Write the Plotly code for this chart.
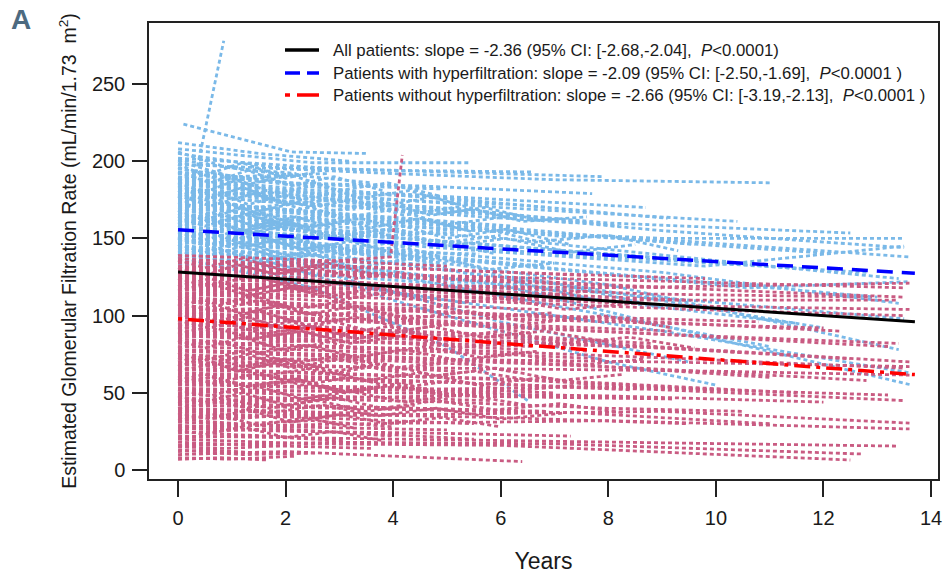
import plotly.graph_objects as go

# ---------------- data ----------------
# Individual eGFR trajectories, each patient: list of (years, eGFR)
hyper_patients = [
    [(0.2, 170), (0.85, 278)],
    [(0.1, 224), (2.1, 206), (3.5, 205)],
    [(0, 212), (1.5, 205), (3.2, 200)],
    [(0, 208), (2.5, 199), (5.4, 199)],
    [(0, 205), (1.8, 196), (4.2, 194), (6.6, 193)],
    [(0, 202), (3.0, 195), (7.9, 190)],
    [(0, 198), (4.0, 192), (7.0, 188), (11.0, 186)],
    [(0, 200), (1.0, 190), (2.8, 192)],
    [(0, 195), (2.0, 186), (4.5, 184), (7.7, 179)],
    [(0, 192), (3.5, 180), (8.7, 170)],
    [(0, 190), (2.2, 182), (5.0, 176), (9.1, 163)],
    [(0, 188), (3.0, 178), (6.0, 170), (10.4, 161)],
    [(0, 185), (4.0, 172), (8.0, 160), (12.5, 153.5)],
    [(0, 182), (5.0, 168), (9.0, 155), (13.5, 144)],
    [(0, 180), (1.5, 174), (3.8, 170)],
    [(0, 178), (2.4, 172), (5.5, 166)],
    [(0, 176), (1.0, 180), (2.5, 171)],
    [(0, 174), (3.5, 165), (6.2, 158)],
    [(0, 172), (2.0, 168), (4.6, 160), (7.5, 150)],
    [(0, 170), (4.0, 158), (9.5, 148), (13.6, 138)],
    [(0, 168), (1.2, 164), (3.0, 160)],
    [(0, 166), (2.8, 158), (6.0, 150), (10.2, 135)],
    [(0, 164), (1.6, 160), (4.0, 152)],
    [(0, 162), (5.0, 148), (11.0, 132), (13.4, 124)],
    [(0, 160), (2.2, 155), (5.8, 146), (8.5, 138)],
    [(0, 158), (3.2, 150), (7.0, 140), (12.8, 128)],
    [(0, 156), (1.0, 150), (2.6, 152)],
    [(0, 154), (4.4, 142), (9.0, 128), (13.4, 108)],
    [(0, 152), (2.5, 146), (6.8, 132)],
    [(0, 150), (3.6, 140), (8.0, 120), (13.4, 78)],
    [(0, 148), (1.8, 144), (4.8, 136)],
    [(0, 146), (6.0, 120), (10.0, 85), (13.65, 55)],
    [(0, 144), (2.0, 140), (5.0, 132)],
    [(0, 138), (2.5, 118), (5.0, 80), (6.5, 45)],
    [(0, 141), (1.4, 138), (3.5, 134)],
    [(0, 139), (4.5, 126), (9.5, 110), (13.5, 98)],
    [(0, 137), (2.0, 133), (4.2, 128)],
    [(0, 135), (3.0, 128), (7.8, 115)],
    [(0, 133), (6.0, 118), (11.5, 95)],
    [(0, 131), (1.2, 128), (2.8, 126)],
    [(0, 196), (0.8, 188), (2.0, 190)],
    [(0, 186), (1.1, 182), (2.3, 176)],
    [(0, 184), (0.6, 178), (1.8, 180), (3.2, 174)],
    [(0, 179), (1.4, 170), (2.9, 175)],
    [(0, 177), (0.9, 172), (2.1, 168)],
    [(0, 171), (1.7, 166), (3.3, 169)],
    [(0, 169), (2.3, 158), (4.4, 162)],
    [(0, 167), (0.7, 170), (1.9, 160)],
    [(0, 163), (1.3, 158), (2.7, 164)],
    [(0, 161), (2.6, 150), (5.2, 154)],
    [(0, 159), (1.0, 162), (3.4, 148)],
    [(0, 157), (2.1, 150), (4.0, 156)],
    [(0, 153), (1.5, 148), (3.1, 144)],
    [(0, 151), (0.8, 146), (2.4, 150)],
    [(0, 149), (2.9, 142), (5.6, 140)],
    [(0, 147), (1.2, 150), (3.8, 140)],
    [(0, 145), (2.0, 138), (4.3, 142)],
    [(0, 143), (1.6, 137), (3.5, 130)],
    [(0, 206), (0.9, 196), (2.2, 192)],
    [(0, 201), (1.3, 194), (3.6, 186)],
    [(0, 193), (2.4, 185), (4.9, 182)],
    [(0, 189), (3.2, 176), (6.1, 172)],
    [(0, 187), (1.9, 180), (4.1, 178), (6.9, 170)],
    [(0, 183), (2.6, 175), (5.3, 169), (8.2, 158)],
    [(0, 181), (3.9, 168), (7.4, 160)],
    [(0, 175), (2.9, 166), (6.4, 156), (9.6, 146)],
    [(0, 173), (4.2, 160), (8.9, 148), (12.2, 140)],
    [(0, 165), (3.3, 152), (7.2, 142), (11.8, 130)],
    [(0, 155), (4.1, 140), (8.4, 126), (13.0, 112)],
    [(0, 152), (5.2, 136), (10.6, 118), (13.6, 122)],
    [(0, 148), (3.7, 135), (7.6, 118), (12.0, 92)],
    [(0, 158), (4.8, 144), (9.8, 132), (13.5, 145)],
    [(0, 170), (5.0, 156), (9.0, 150), (13.5, 150)],
    [(0, 144), (4.0, 126), (8.0, 100), (11.0, 80)],
    [(0, 140), (3.0, 125), (6.0, 96), (9.5, 70)],
    [(0, 136), (5.0, 110), (9.0, 90), (13.6, 63)],
    [(0, 150), (2.0, 132), (4.0, 110), (6.0, 90), (8.0, 70), (10.0, 55)],
    [(0, 186), (0.5, 180), (1.1, 188), (1.8, 179), (2.6, 185), (3.4, 176), (4.3, 181), (5.2, 172)],
    [(0, 176), (0.6, 182), (1.3, 172), (2.0, 178), (2.9, 168), (3.8, 174), (4.7, 165), (5.7, 170), (6.8, 161)],
    [(0, 168), (0.5, 162), (1.2, 170), (1.9, 160), (2.7, 166), (3.6, 157), (4.5, 163), (5.5, 154)],
    [(0, 161), (0.7, 167), (1.4, 158), (2.2, 164), (3.1, 154), (4.0, 160), (5.0, 150), (6.1, 156), (7.3, 146)],
    [(0, 154), (0.5, 149), (1.2, 156), (2.0, 146), (2.9, 152), (3.8, 143), (4.8, 149), (5.9, 140)],
    [(0, 149), (0.6, 154), (1.3, 145), (2.1, 151), (3.0, 141), (3.9, 147), (4.9, 138)],
    [(0, 142), (0.5, 138), (1.2, 145), (2.0, 136), (2.8, 142), (3.7, 133), (4.7, 139), (5.8, 130), (7.0, 134)],
    [(0, 193), (0.6, 186), (1.3, 194), (2.1, 184), (2.9, 190), (3.8, 181)],
    [(0, 181), (0.5, 175), (1.2, 183), (2.0, 173), (2.8, 179), (3.7, 170), (4.6, 176)],
    [(0, 172), (0.6, 177), (1.4, 167), (2.2, 173), (3.1, 163), (4.0, 169), (5.0, 159), (6.1, 164)],
    [(0, 164), (0.5, 158), (1.3, 166), (2.1, 156), (3.0, 162), (3.9, 152)],
    [(0, 157), (0.6, 162), (1.3, 153), (2.1, 159), (3.0, 149), (4.0, 155), (5.0, 145), (6.1, 150), (7.3, 141), (8.5, 146)],
    [(0, 146), (0.5, 141), (1.2, 148), (2.0, 139), (2.9, 145), (3.8, 136)],
    [(0, 139), (0.7, 144), (1.5, 135), (2.4, 141), (3.3, 131), (4.3, 137), (5.4, 127), (6.6, 124), (7.8, 115), (9.0, 105)],
    [(0, 198), (0.5, 191), (1.2, 199), (2.0, 189), (2.8, 195)],
    [(0, 178), (0.6, 171), (1.4, 179), (2.3, 169), (3.2, 175), (4.2, 165), (5.3, 171), (6.4, 161), (7.6, 164)],
    [(0, 159), (0.5, 164), (1.2, 155), (2.0, 160), (2.9, 151), (3.9, 156), (4.9, 147), (6.0, 152)],
    [(0, 151), (0.6, 146), (1.4, 152), (2.3, 143), (3.2, 148), (4.2, 139), (5.3, 134), (6.5, 120), (7.8, 110)],
    [(0, 166), (0.7, 160), (1.5, 167), (2.4, 157), (3.4, 163), (4.4, 153), (5.5, 158), (6.7, 148), (8.0, 152), (9.3, 142)],
    [(0, 188), (0.6, 194), (1.3, 185), (2.1, 191), (3.0, 181), (3.9, 186), (4.9, 177)],
]

nonhyper_patients = [
    [(0, 7), (0.8, 8), (1.65, 6.5)],
    [(0, 10), (2.0, 12), (4.0, 9), (6.4, 5.5)],
    [(0, 13), (1.2, 10), (2.6, 11)],
    [(0, 16), (3.0, 18), (7.0, 17), (12.7, 10.4)],
    [(0, 20), (2.5, 17), (6.0, 16), (12.5, 6.5)],
    [(0, 18), (1.5, 16), (3.6, 14)],
    [(0, 22), (4.0, 20), (8.0, 18), (13.4, 15.5)],
    [(0, 25), (1.0, 23), (2.4, 21)],
    [(0, 28), (3.5, 30), (8.0, 32), (13.6, 26.6)],
    [(0, 31), (2.0, 28), (5.0, 26)],
    [(0, 34), (4.5, 36), (9.0, 38), (13.6, 30.4)],
    [(0, 24), (1.8, 27), (4.0, 22)],
    [(0, 36), (2.4, 34), (5.5, 30)],
    [(0, 38), (1.6, 35), (3.2, 37)],
    [(0, 42), (3.0, 40), (7.45, 37), (11.0, 30)],
    [(0, 45), (5.0, 48), (9.2, 46)],
    [(0, 50), (4.0, 52), (8.0, 54), (13.2, 48.6)],
    [(0, 40), (2.2, 38), (4.8, 35)],
    [(0, 47), (1.4, 44), (3.0, 46)],
    [(0, 52), (2.7, 48), (5.8, 45)],
    [(0, 55), (3.4, 54), (7.0, 50)],
    [(0, 58), (1.0, 55), (2.2, 57)],
    [(0, 60), (4.0, 58), (9.0, 52), (13.5, 45)],
    [(0, 62), (2.0, 60), (4.4, 56)],
    [(0, 65), (3.0, 62), (6.5, 58), (10.0, 52)],
    [(0, 68), (5.0, 66), (10.0, 64), (13.6, 61.5)],
    [(0, 70), (2.5, 68), (5.2, 64)],
    [(0, 72), (4.0, 72), (9.0, 70), (13.6, 67)],
    [(0, 75), (1.8, 72), (3.8, 70)],
    [(0, 78), (3.6, 74), (7.5, 68), (11.0, 60)],
    [(0, 80), (2.2, 78), (4.6, 75)],
    [(0, 83), (5.0, 78), (9.5, 72), (13.5, 66)],
    [(0, 85), (1.2, 82), (2.8, 84)],
    [(0, 88), (3.0, 84), (6.6, 80)],
    [(0, 90), (4.5, 86), (8.5, 80), (12.5, 72)],
    [(0, 92), (2.0, 90), (4.2, 86)],
    [(0, 95), (3.4, 90), (7.2, 84), (10.5, 76)],
    [(0, 97), (1.5, 94), (3.3, 92)],
    [(0, 100), (5.0, 94), (9.0, 88), (13.4, 82)],
    [(0, 102), (2.6, 98), (5.4, 94)],
    [(0, 105), (4.0, 100), (8.0, 96), (12.0, 92)],
    [(0, 107), (1.0, 104), (2.4, 106)],
    [(0, 110), (3.0, 105), (6.8, 100), (10.8, 96)],
    [(0, 112), (2.2, 108), (4.8, 104)],
    [(0, 115), (5.0, 110), (9.6, 104), (13.5, 100)],
    [(0, 117), (1.6, 114), (3.6, 112)],
    [(0, 120), (4.2, 116), (8.2, 110), (13.4, 110)],
    [(0, 122), (2.8, 118), (5.9, 114)],
    [(0, 125), (3.6, 120), (7.8, 118), (13.6, 121)],
    [(0, 127), (1.3, 124), (3.0, 126)],
    [(0, 130), (4.8, 126), (9.4, 122), (13.5, 118)],
    [(0, 132), (2.0, 130), (4.6, 126)],
    [(0, 134), (3.2, 132), (6.2, 128), (9.8, 124)],
    [(0, 137), (1.4, 134), (3.4, 136)],
    [(0, 139), (2.5, 136), (5.0, 132)],
    [(0, 128), (3.95, 138), (4.17, 204)],
    [(0, 33), (1.1, 30), (2.5, 32), (4.0, 28)],
    [(0, 44), (2.0, 42), (4.5, 40), (6.9, 38)],
    [(0, 57), (1.7, 54), (3.9, 52), (6.0, 50)],
    [(0, 63), (2.9, 60), (5.6, 56), (8.4, 52)],
    [(0, 74), (1.3, 70), (3.1, 72), (5.7, 68)],
    [(0, 82), (2.4, 80), (5.3, 76), (7.9, 72)],
    [(0, 87), (1.9, 84), (4.1, 82), (6.4, 78)],
    [(0, 94), (2.7, 92), (5.8, 88), (8.8, 82)],
    [(0, 99), (1.6, 96), (3.7, 98), (6.1, 92)],
    [(0, 104), (3.1, 100), (6.3, 94), (9.2, 90)],
    [(0, 109), (2.3, 106), (4.9, 102), (7.5, 98)],
    [(0, 114), (1.5, 112), (3.5, 108), (6.7, 104)],
    [(0, 119), (2.6, 116), (5.5, 112), (8.6, 108)],
    [(0, 124), (1.8, 122), (4.3, 118), (7.1, 114)],
    [(0, 129), (3.3, 126), (6.0, 122), (9.0, 118)],
    [(0, 135), (2.1, 132), (4.7, 130), (7.6, 126)],
    [(0, 27), (2.2, 25), (4.6, 24), (7.3, 22)],
    [(0, 21), (1.4, 22), (3.1, 19)],
    [(0, 15), (0.9, 14), (2.1, 16)],
    [(0, 39), (3.0, 36), (6.0, 34), (9.5, 30)],
    [(0, 49), (2.5, 46), (5.0, 44), (8.0, 40), (10.5, 38)],
    [(0, 53), (4.0, 50), (8.0, 48), (12.0, 44)],
    [(0, 66), (3.5, 62), (7.0, 58), (11.5, 50)],
    [(0, 77), (4.2, 72), (8.6, 66), (12.8, 58)],
    [(0, 89), (5.0, 84), (9.8, 78), (13.6, 70)],
    [(0, 101), (4.6, 96), (8.9, 88), (13.2, 80)],
    [(0, 111), (3.9, 104), (7.7, 98), (12.3, 90)],
    [(0, 118), (5.2, 112), (10.0, 106), (13.6, 104)],
    [(0, 126), (4.4, 120), (8.8, 114), (12.9, 112)],
    [(0, 131), (5.5, 124), (10.5, 116), (13.5, 112)],
    [(0, 86), (1.0, 88), (2.2, 85)],
    [(0, 93), (0.7, 90), (1.6, 92)],
    [(0, 103), (1.1, 100), (2.0, 102)],
    [(0, 113), (0.8, 110), (1.9, 112)],
    [(0, 123), (1.2, 120), (2.5, 122)],
    [(0, 69), (0.9, 66), (2.0, 68)],
    [(0, 59), (1.3, 56), (2.6, 58)],
    [(0, 46), (0.8, 44), (1.8, 46)],
    [(0, 35), (1.0, 33), (2.2, 36)],
    [(0, 29), (1.6, 26), (3.4, 24), (5.5, 20)],
    [(0, 12), (0.6, 13), (1.5, 11)],
    [(0, 8), (1.0, 7), (2.2, 9)],
    [(0, 128), (2.0, 125), (4.0, 120), (6.0, 116)],
    [(0, 121), (3.0, 118), (6.0, 115), (9.5, 110)],
    [(0, 131), (0.5, 126), (1.1, 133), (1.8, 127), (2.6, 131), (3.3, 124), (4.1, 128), (5.0, 121)],
    [(0, 119), (0.6, 124), (1.3, 116), (2.0, 121), (2.9, 113), (3.7, 118), (4.6, 111), (5.6, 115), (6.5, 108)],
    [(0, 111), (0.7, 106), (1.4, 113), (2.2, 104), (3.0, 109), (3.9, 101), (4.8, 106), (5.9, 99), (7.0, 102)],
    [(0, 106), (0.5, 110), (1.2, 101), (1.9, 107), (2.7, 99), (3.5, 104), (4.4, 96)],
    [(0, 97), (0.6, 92), (1.3, 99), (2.1, 90), (2.9, 96), (3.8, 88), (4.7, 93), (5.7, 86), (6.8, 90), (8.0, 83)],
    [(0, 91), (0.8, 96), (1.6, 88), (2.5, 93), (3.3, 85), (4.2, 90), (5.1, 83)],
    [(0, 84), (0.5, 79), (1.2, 86), (2.0, 77), (2.8, 83), (3.7, 75), (4.6, 80), (5.6, 73), (6.7, 77)],
    [(0, 79), (0.7, 84), (1.5, 76), (2.4, 81), (3.3, 73), (4.2, 78), (5.2, 71), (6.3, 75), (7.5, 68), (8.7, 72)],
    [(0, 73), (0.6, 68), (1.3, 75), (2.1, 66), (3.0, 72), (3.9, 64), (4.9, 69)],
    [(0, 67), (0.5, 72), (1.1, 64), (1.9, 70), (2.8, 62), (3.6, 67), (4.5, 60), (5.5, 64), (6.6, 58)],
    [(0, 61), (0.7, 56), (1.5, 63), (2.3, 55), (3.2, 60), (4.1, 53), (5.1, 58), (6.2, 51), (7.4, 55)],
    [(0, 56), (0.6, 60), (1.4, 53), (2.2, 58), (3.1, 50), (4.0, 55), (5.0, 48)],
    [(0, 48), (0.5, 44), (1.2, 50), (2.0, 42), (2.9, 47), (3.8, 40), (4.8, 45), (5.9, 39), (7.1, 43), (8.3, 37)],
    [(0, 43), (0.8, 47), (1.7, 40), (2.6, 45), (3.5, 38), (4.4, 42)],
    [(0, 37), (0.6, 33), (1.3, 39), (2.1, 31), (3.0, 36), (3.9, 30), (4.9, 34), (6.0, 28)],
    [(0, 32), (0.7, 36), (1.5, 29), (2.4, 34), (3.3, 27)],
    [(0, 26), (0.5, 23), (1.2, 28), (2.0, 21), (2.9, 25), (3.8, 19)],
    [(0, 116), (0.6, 121), (1.3, 113), (2.1, 118), (3.0, 110), (3.9, 115), (4.9, 107), (6.0, 111), (7.2, 104), (8.5, 108)],
    [(0, 101), (0.7, 96), (1.5, 103), (2.4, 94), (3.3, 99), (4.3, 91), (5.4, 96), (6.6, 88)],
    [(0, 88), (0.6, 93), (1.4, 85), (2.3, 90), (3.2, 82), (4.2, 87), (5.2, 79), (6.4, 84), (7.6, 77)],
    [(0, 76), (0.5, 71), (1.3, 78), (2.1, 69), (3.0, 74), (4.0, 66), (5.1, 71), (6.3, 63)],
    [(0, 64), (0.7, 69), (1.6, 61), (2.5, 66), (3.5, 58), (4.5, 63), (5.6, 55), (6.8, 60), (8.0, 53)],
    [(0, 52), (0.6, 48), (1.4, 55), (2.3, 46), (3.2, 51), (4.2, 44), (5.3, 49), (6.5, 42)],
    [(0, 40), (0.8, 44), (1.7, 37), (2.7, 42), (3.7, 35), (4.8, 40), (6.0, 33), (7.2, 37)],
    [(0, 124), (0.6, 119), (1.4, 126), (2.3, 117), (3.2, 122), (4.2, 114), (5.3, 119), (6.4, 111), (7.6, 116)],
    [(0, 136), (0.5, 131), (1.2, 137), (2.0, 129), (2.8, 134), (3.7, 126)],
    [(0, 94), (0.6, 98), (1.3, 91), (2.1, 96), (3.0, 88), (3.9, 93), (4.9, 85), (6.0, 90), (7.2, 82), (8.4, 86), (9.6, 79)],
    [(0, 70), (0.5, 74), (1.2, 67), (2.0, 72), (2.9, 64), (3.8, 69), (4.8, 61), (5.9, 66), (7.1, 58), (8.3, 62)],
    [(0, 58), (0.5, 62), (1.3, 54), (2.2, 59), (3.1, 51), (4.1, 56), (5.2, 48)],
    [(0, 108), (0.7, 103), (1.5, 110), (2.4, 101), (3.3, 106), (4.3, 98), (5.4, 103), (6.6, 95), (7.9, 100), (9.2, 92)],
]

# fitted regression lines (endpoints)
trend_years = [0, 13.7]
all_fit = [128.3, 96.0]
hyper_fit = [155.6, 127.4]
nonhyper_fit = [98.0, 61.8]

legend_labels = [
    "All patients: slope = -2.36 (95% CI: [-2.68,-2.04],  <i>P</i><0.0001)",
    "Patients with hyperfiltration: slope = -2.09 (95% CI: [-2.50,-1.69],  <i>P</i><0.0001 )",
    "Patients without hyperfiltration: slope = -2.66 (95% CI: [-3.19,-2.13],  <i>P</i><0.0001 )",
]

x_ticks = [0, 2, 4, 6, 8, 10, 12, 14]
y_ticks = [0, 50, 100, 150, 200, 250]

# ---------------- figure ----------------
def flatten(patients):
    xs, ys = [], []
    for p in patients:
        for t, v in p:
            xs.append(t)
            ys.append(v)
        xs.append(None)
        ys.append(None)
    return xs, ys

fig = go.Figure()

hx, hy = flatten(hyper_patients)
fig.add_trace(go.Scatter(x=hx, y=hy, mode="lines", showlegend=False, hoverinfo="skip",
                         line=dict(color="#7ab9e8", width=2.8, dash="4px,3px")))
nx, ny = flatten(nonhyper_patients)
fig.add_trace(go.Scatter(x=nx, y=ny, mode="lines", showlegend=False, hoverinfo="skip",
                         line=dict(color="#c95b82", width=2.8, dash="4px,3px")))

fit_styles = [
    dict(color="black", width=3),
    dict(color="#0000ff", width=3.5, dash="16px,9px"),
    dict(color="#ff0000", width=3.5, dash="4px,6px,16px,6px"),
]
for fit, style, label in zip([all_fit, hyper_fit, nonhyper_fit], fit_styles, legend_labels):
    fig.add_trace(go.Scatter(x=trend_years, y=fit, mode="lines", name=label,
                             showlegend=False, line=style))

# manual legend (inside plot area, paper coordinates)
plot_l, plot_r, plot_t, plot_b = 149, 938, 23, 479
def px_x(p):
    return (p - plot_l) / (plot_r - plot_l)
def px_y(p):
    return (plot_b - p) / (plot_b - plot_t)

legend_rows = [50, 73, 95]
legend_dash = ["solid", "15px,7px", "5px,7px,22px,7px"]
annotations = []
shapes = []
for row, style, dash, label in zip(legend_rows, fit_styles, legend_dash, legend_labels):
    shapes.append(dict(type="line", xref="paper", yref="paper",
                       x0=px_x(285), x1=px_x(319), y0=px_y(row), y1=px_y(row),
                       line=dict(color=style["color"], width=3.5, dash=dash)))
    annotations.append(dict(text=label, xref="paper", yref="paper", x=px_x(331), y=px_y(row),
                            xanchor="left", yanchor="middle", showarrow=False,
                            font=dict(size=16.8, color="#1a1a1a")))

annotations.append(dict(text="<b>A</b>", x=-0.178, y=1.045, xref="paper", yref="paper",
                        xanchor="left", yanchor="top", showarrow=False,
                        font=dict(family="Liberation Sans Narrow, Arial Narrow, sans-serif",
                                  size=28, color="#4d6a80")))

font_family = "Liberation Sans, Arial, sans-serif"

fig.update_layout(
    width=944, height=574,
    margin=dict(l=149, r=6, t=23, b=95),
    paper_bgcolor="white", plot_bgcolor="white",
    font=dict(family=font_family, color="#1a1a1a", size=19),
    showlegend=False,
    annotations=annotations,
    shapes=shapes,
)
fig.update_xaxes(range=[-0.54, 14.13], tickvals=x_ticks, ticks="outside", ticklen=16,
                 tickwidth=1.5, tickcolor="#222", showline=True, linecolor="#222", linewidth=1.5,
                 mirror=True, showgrid=False, zeroline=False, ticklabelstandoff=4,
                 tickfont=dict(size=20), automargin=False,
                 title=dict(text="Years", standoff=32))
fig.update_yaxes(range=[-5.8, 289.5], tickvals=y_ticks, ticks="outside", ticklen=15,
                 tickwidth=1.5, tickcolor="#222", showline=True, linecolor="#222", linewidth=1.5,
                 mirror=True, showgrid=False, zeroline=False, automargin=False,
                 ticklabelstandoff=3, tickfont=dict(size=20),
                 title=dict(text="Estimated Glomerular Filtration Rate (mL/min/1.73  m<sup>2</sup>)",
                            standoff=10, font=dict(size=19.5)))

fig.write_html("out.html")
